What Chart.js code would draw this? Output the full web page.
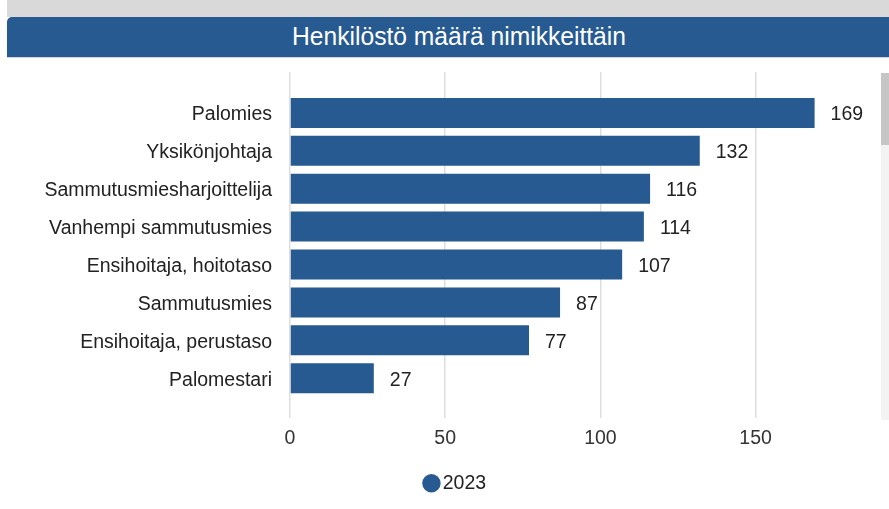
<!DOCTYPE html>
<html>
<head>
<meta charset="utf-8">
<script src="https://cdn.jsdelivr.net/npm/chart.js@4/dist/chart.umd.min.js"></script>
<style>
body { margin:0; background:#fff; width:889px; height:509px; overflow:hidden; position:relative; font-family:"Liberation Sans", Arial, sans-serif; }
#strip { position:absolute; left:7px; top:0; width:882px; height:17px; background:#d9d9d9; }
#otsikko { position:absolute; left:7px; top:17px; width:882px; height:40px; background:#265a91; color:#fff;
  border-top-left-radius:5px; box-shadow:0 1px 1px rgba(0,0,0,0.18); }
#otsikko span { position:absolute; left:452px; top:19px; transform:translate(-50%,-50%) scaleX(0.985);
  font-size:25px; white-space:nowrap; }
#wrap { position:absolute; left:0; top:60px; width:889px; height:449px; }
#track { position:absolute; left:881px; top:73px; width:8px; height:347px; background:#f3f3f3; }
#thumb { position:absolute; left:881px; top:73px; width:8px; height:72px; background:#c6c6c6; }
</style>
</head>
<body>
<div id="strip"></div>
<div id="otsikko"><span>Henkilöstö määrä nimikkeittäin</span></div>
<div id="wrap"><canvas id="nimikkeet"></canvas></div>
<div id="track"></div>
<div id="thumb"></div>
<script>
const nimikkeet = ["Palomies","Yksikönjohtaja","Sammutusmiesharjoittelija","Vanhempi sammutusmies","Ensihoitaja, hoitotaso","Sammutusmies","Ensihoitaja, perustaso","Palomestari"]
const maarat2023 = [169,132,116,114,107,87,77,27]
const vuosi = "2023"

const sininen = "#265a91"
const fontti = "'Liberation Sans', Arial, sans-serif"
const koko = 19.5

// vain 50:n välein olevat tikit
const tasaTikit = scale => {
scale.ticks = scale.ticks.filter(t => t.value % 50 === 0)
}

// arvot palkkien perään
const arvoTekstit = {
id:"arvoTekstit",
afterDatasetsDraw(chart){
const ctx = chart.ctx
const meta = chart.getDatasetMeta(0)
ctx.save()
ctx.font = koko + "px " + fontti
ctx.fillStyle = "#222"
ctx.textAlign = "left"
ctx.textBaseline = "middle"
meta.data.forEach((bar,i) => {
ctx.fillText(chart.data.datasets[0].data[i], bar.x + 16, bar.y + 2)
})
ctx.restore()
}
}

new Chart(document.getElementById("nimikkeet"),{
type:"bar",
data:{
labels:nimikkeet,
datasets:[{
label:vuosi,
data:maarat2023,
backgroundColor:sininen,
borderWidth:0,
categoryPercentage:0.8,
barPercentage:0.99,
xAxisID:"x"
}]
},
options:{
indexAxis:"y",
responsive:true,
maintainAspectRatio:false,
animation:false,
layout:{padding:{left:30,right:3,top:12,bottom:6}},
scales:{
x:{
position:"bottom",
min:0,
max:192,
ticks:{stepSize:50,padding:9,color:"#333",font:{family:fontti,size:koko}},
afterBuildTicks:tasaTikit,
grid:{color:"#dedede",lineWidth:1.5,tickLength:21,drawTicks:true},
border:{display:false}
},
x2:{
position:"top",
min:0,
max:192,
ticks:{display:false,stepSize:50},
afterBuildTicks:tasaTikit,
grid:{color:"#dedede",lineWidth:1.5,tickLength:22,drawOnChartArea:false},
border:{display:false}
},
y:{
ticks:{padding:18,labelOffset:2,color:"#222",font:{family:fontti,size:koko}},
grid:{display:false,drawTicks:false},
border:{display:false},
afterFit:s => { s.width = 260 }
}
},
plugins:{
legend:{
position:"bottom",
labels:{usePointStyle:true,pointStyle:"circle",boxWidth:3,boxHeight:13,padding:14,color:"#222",font:{family:fontti,size:koko}}
},
tooltip:{enabled:false}
}
},
plugins:[arvoTekstit]
})
</script>
</body>
</html>
